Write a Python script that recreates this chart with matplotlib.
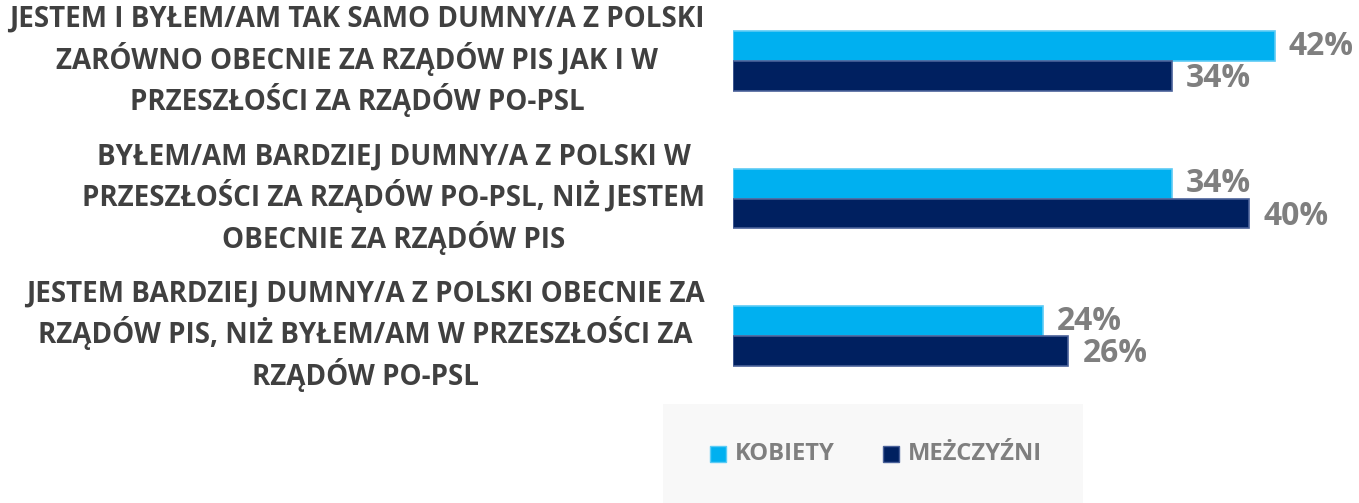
import matplotlib.pyplot as plt
import numpy as np
from matplotlib.patches import Rectangle

categories = [
    "JESTEM I BYŁEM/AM TAK SAMO DUMNY/A Z POLSKI\nZARÓWNO OBECNIE ZA RZĄDÓW PIS JAK I W\nPRZESZŁOŚCI ZA RZĄDÓW PO-PSL",
    "BYŁEM/AM BARDZIEJ DUMNY/A Z POLSKI W\nPRZESZŁOŚCI ZA RZĄDÓW PO-PSL, NIŻ JESTEM\nOBECNIE ZA RZĄDÓW PIS",
    "JESTEM BARDZIEJ DUMNY/A Z POLSKI OBECNIE ZA\nRZĄDÓW PIS, NIŻ BYŁEM/AM W PRZESZŁOŚCI ZA\nRZĄDÓW PO-PSL",
]
kobiety = [42, 34, 24]
mezczyzni = [34, 40, 26]
series_names = ["KOBIETY", "MEŻCZYŹNI"]

plt.rcParams['font.family'] = ['Open Sans', 'DejaVu Sans']
plt.rcParams['font.weight'] = 'bold'

W, H = 1359, 503
fig = plt.figure(figsize=(W / 100, H / 100), dpi=100)
renderer = fig.canvas.get_renderer()


def fit(t, target_px):
    # scale a text's font size so its rendered width matches the target
    w = t.get_window_extent(renderer).width
    t.set_fontsize(t.get_fontsize() * target_px / w)


# axes placed so that 0% sits at x=733px, groups centered near 61/198/336px
left = 733 / W
right = (733 + 48 * 12.9) / W
top = 1 - 6 / H
bottom = 1 - 391 / H
ax = fig.add_axes([left, bottom, right - left, top - bottom])

y = np.arange(len(categories))
h = 0.215
light = '#00B0F0'
dark = '#002060'
ax.barh(y - h / 2, kobiety, height=h, color=light, edgecolor='#5CCBF5', linewidth=1.2)
ax.barh(y + h / 2, mezczyzni, height=h, color=dark, edgecolor='#4A6199', linewidth=1.2)

ax.set_xlim(0, 48)
ax.set_ylim(2.4, -0.4)
ax.axis('off')

probe = fig.text(0, 0, "42%", fontsize=20, fontweight='bold')
fit(probe, 65)
vsize = probe.get_fontsize()
probe.remove()

for i in range(len(categories)):
    ax.text(kobiety[i] + 1.1, y[i] - h / 2, f"{kobiety[i]}%", va='center', ha='left',
            fontsize=vsize, color='#7F7F7F', fontweight='bold')
    ax.text(mezczyzni[i] + 1.1, y[i] + h / 2 + 0.02, f"{mezczyzni[i]}%", va='center', ha='left',
            fontsize=vsize, color='#7F7F7F', fontweight='bold')

# category labels, centered block right-aligned at ~705px
probe = fig.text(0, 0, categories[0].split("\n")[0], fontsize=20, fontweight='bold')
fit(probe, 695)
csize = probe.get_fontsize()
probe.remove()
for i, cat in enumerate(categories):
    yc = ax.transData.transform((0, y[i]))[1] / H
    fig.text(705 / W, yc, cat, ha='right', va='center', multialignment='center',
             fontsize=csize, color='#404040', fontweight='bold', linespacing=1.28)

# legend box
fig.patches.append(Rectangle((663 / W, 0), (1083 - 663) / W, (503 - 404) / H,
                             transform=fig.transFigure, facecolor='#F8F8F8',
                             edgecolor='none', zorder=0))
probe = fig.text(0, 0, series_names[0], fontsize=20, fontweight='bold')
fit(probe, 100)
lsize = probe.get_fontsize()
probe.remove()
ly = 1 - 454 / H
for x0, col, ec, name in [(710, light, '#5CCBF5', series_names[0]),
                          (883, dark, '#4A6199', series_names[1])]:
    fig.patches.append(Rectangle((x0 / W, ly - 8 / H), 16 / W, 16 / H,
                                 transform=fig.transFigure, facecolor=col,
                                 edgecolor=ec, linewidth=1, zorder=1))
    fig.text((x0 + 25) / W, ly, name, ha='left', va='center', fontsize=lsize,
             color='#7F7F7F', fontweight='bold')

fig.savefig('out.png', dpi=100)
